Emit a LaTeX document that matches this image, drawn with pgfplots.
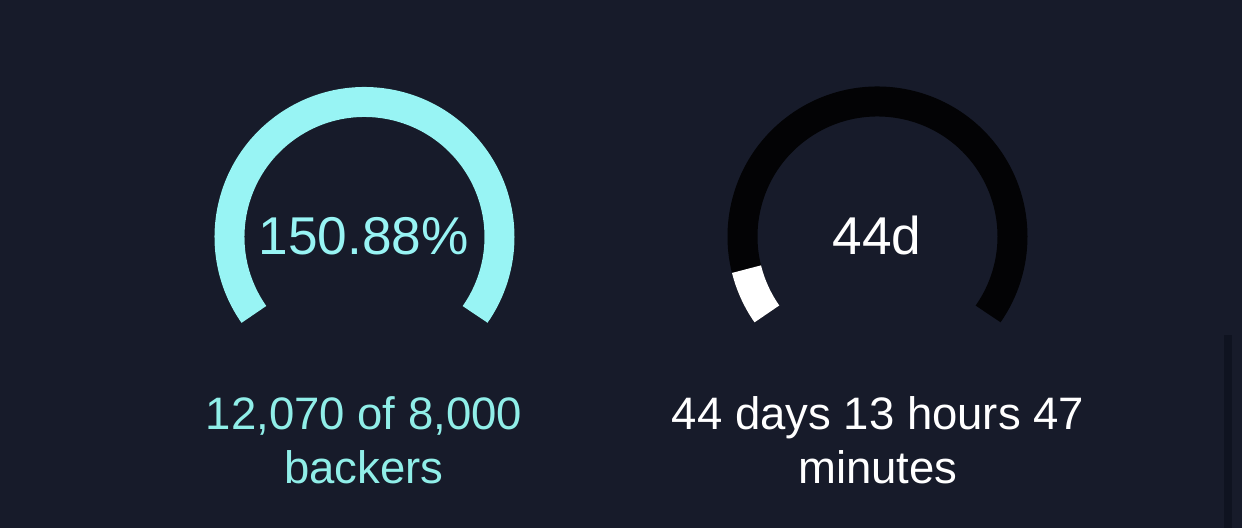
\documentclass[border=0pt]{standalone}
\usepackage{pgfplots}
\pgfplotsset{compat=1.18}
\usepackage{fontspec}
\setmainfont{Liberation Sans}
\definecolor{bg}{HTML}{171B2A}
\definecolor{bar}{HTML}{0F1320}
\definecolor{cyanc}{HTML}{98F4F4}
\definecolor{cyant}{HTML}{90EEE8}
\definecolor{track}{HTML}{030305}
% data
\def\backers{12070}
\def\goal{8000}
\def\timeElapsed{0.084} % fraction of the campaign elapsed
\def\gaugeStart{215}
\def\gaugeSweep{250}
\begin{document}
\begin{tikzpicture}
\begin{axis}[
  scale only axis, width=621pt, height=264pt,
  xmin=0, xmax=1242, ymin=0, ymax=528,
  hide axis, clip=false,
]
\fill[bg] (axis cs:0,0) rectangle (axis cs:1242,528);
\fill[bar] (axis cs:1224,0) rectangle (axis cs:1232,193);
% left gauge (backers)
\pgfmathsetmacro{\frac}{min(1,\backers/\goal)}
\pgfmathsetmacro{\endA}{\gaugeStart-\gaugeSweep*\frac}
\draw[track, line width=15pt, line cap=butt] (axis cs:364.5,291) ++(\gaugeStart:67.5pt) arc[start angle=\gaugeStart, end angle=\gaugeStart-\gaugeSweep, radius=67.5pt];
\draw[cyanc, line width=15pt, line cap=butt] (axis cs:364.5,291) ++(\gaugeStart:67.5pt) arc[start angle=\gaugeStart, end angle=\endA, radius=67.5pt];
% right gauge (time)
\pgfmathsetmacro{\endB}{\gaugeStart-\gaugeSweep*\timeElapsed}
\draw[track, line width=15pt, line cap=butt] (axis cs:877.5,291.5) ++(\gaugeStart:67.5pt) arc[start angle=\gaugeStart, end angle=\gaugeStart-\gaugeSweep, radius=67.5pt];
\draw[white, line width=15pt, line cap=butt] (axis cs:877.5,291.5) ++(\gaugeStart:67.5pt) arc[start angle=\gaugeStart, end angle=\endB, radius=67.5pt];
% texts
\node[anchor=base, text=cyanc, font=\fontsize{26.6}{31}\selectfont, inner sep=0pt] at (axis cs:363.5,273.5) {150.88\%};
\node[anchor=base, text=white, font=\fontsize{26.6}{31}\selectfont, inner sep=0pt] at (axis cs:877,273.5) {44d};
\node[anchor=base, text=cyant, font=\fontsize{22.75}{27}\selectfont, inner sep=0pt] at (axis cs:364,98) {12,070 of 8,000};
\node[anchor=base, text=cyant, font=\fontsize{22.75}{27}\selectfont, inner sep=0pt] at (axis cs:364,44) {backers};
\node[anchor=base, text=white, font=\fontsize{22.75}{27}\selectfont, inner sep=0pt] at (axis cs:878,98) {44 days 13 hours 47};
\node[anchor=base, text=white, font=\fontsize{22.75}{27}\selectfont, inner sep=0pt] at (axis cs:878,44) {minutes};
\end{axis}
\end{tikzpicture}
\end{document}
